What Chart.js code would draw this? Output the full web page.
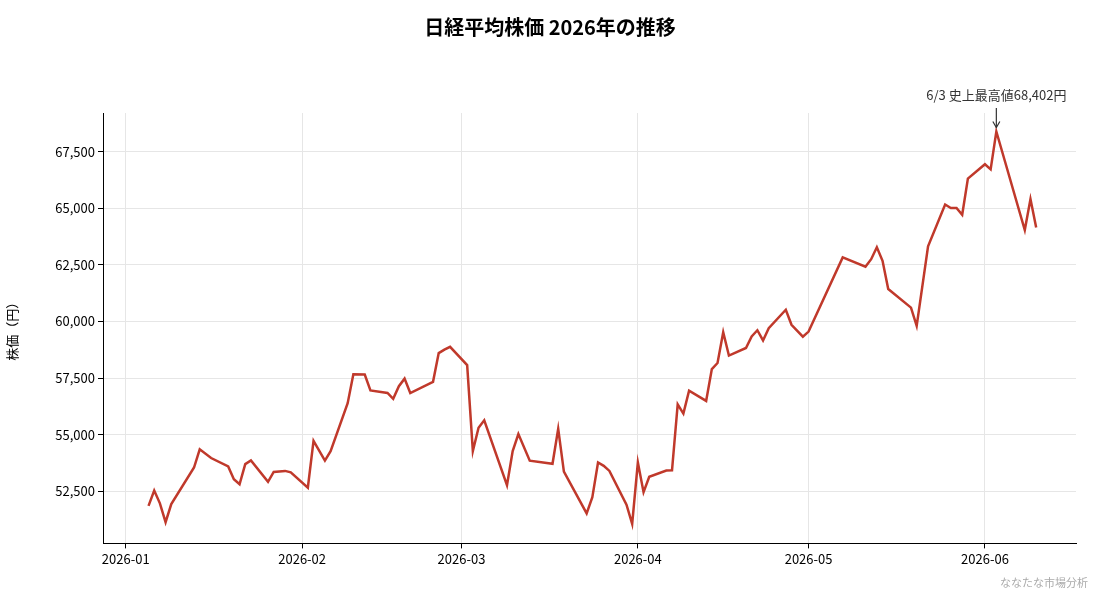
<!DOCTYPE html>
<html>
<head>
<meta charset="utf-8">
<script src="https://cdn.jsdelivr.net/npm/chart.js@4"></script>
<style>
  body { margin: 0; background: #fff; }
  #wrap { width: 1100px; height: 594px; position: relative; }
</style>
</head>
<body>
<div id="wrap"><canvas id="chart"></canvas></div>
<script>
const dates = [
  '2026-01-05','2026-01-06','2026-01-07','2026-01-08','2026-01-09','2026-01-13','2026-01-14','2026-01-16',
  '2026-01-19','2026-01-20','2026-01-21','2026-01-22','2026-01-23','2026-01-26','2026-01-27','2026-01-29',
  '2026-01-30','2026-02-02','2026-02-03','2026-02-05','2026-02-06','2026-02-09','2026-02-10','2026-02-12',
  '2026-02-13','2026-02-16','2026-02-17','2026-02-18','2026-02-19','2026-02-20','2026-02-24','2026-02-25',
  '2026-02-26','2026-02-27','2026-03-02','2026-03-03','2026-03-04','2026-03-05','2026-03-09','2026-03-10',
  '2026-03-11','2026-03-13','2026-03-17','2026-03-18','2026-03-19','2026-03-23','2026-03-24','2026-03-25',
  '2026-03-26','2026-03-27','2026-03-30','2026-03-31','2026-04-01','2026-04-02','2026-04-03','2026-04-06',
  '2026-04-07','2026-04-08','2026-04-09','2026-04-10','2026-04-13','2026-04-14','2026-04-15','2026-04-16',
  '2026-04-17','2026-04-20','2026-04-21','2026-04-22','2026-04-23','2026-04-24','2026-04-27','2026-04-28',
  '2026-04-30','2026-05-01','2026-05-07','2026-05-11','2026-05-12','2026-05-13','2026-05-14','2026-05-15',
  '2026-05-19','2026-05-20','2026-05-22','2026-05-25','2026-05-26','2026-05-27','2026-05-28','2026-05-29',
  '2026-06-01','2026-06-02','2026-06-03','2026-06-08','2026-06-09','2026-06-10'
]
const prices = [
  51850, 52530, 51960, 51130, 51930, 53545, 54350, 53965,
  53590, 53030, 52805, 53695, 53860, 52910, 53350, 53395,
  53330, 52650, 54720, 53850, 54270, 56385, 57670, 57655,
  56955, 56840, 56580, 57140, 57475, 56840, 57335, 58605,
  58755, 58880, 58075, 54270, 55300, 55630, 52760, 54270,
  55025, 53850, 53710, 55255, 53365, 51520, 52230, 53770,
  53620, 53395, 51900, 51055, 53770, 52455, 53135, 53410,
  53420, 56340, 55930, 56945, 56490, 57895, 58165, 59525,
  58495, 58830, 59345, 59615, 59165, 59705, 60520, 59855,
  59330, 59555, 62835, 62425, 62755, 63285, 62685, 61440,
  60615, 59810, 63330, 65175, 65020, 65020, 64720, 66320,
  66955, 66730, 68402, 64045, 65415, 64160
]
const monthTicks = ['2026-01-01','2026-02-01','2026-03-01','2026-04-01','2026-05-01','2026-06-01']
const yTicks = [52500, 55000, 57500, 60000, 62500, 65000, 67500]
const title = '日経平均株価 2026年の推移'
const peakLabel = '6/3 史上最高値68,402円'
const peakDate = '2026-06-03'
const peakPrice = 68402
const credit = 'ななたな市場分析'

const FONT = '"Noto Sans CJK JP", "Noto Sans", sans-serif'
const toDay = s => {
  const [y, m, d] = s.split('-').map(Number)
  return (Date.UTC(y, m - 1, d) - Date.UTC(2026, 0, 1)) / 86400000
}
const fmtMonth = day => {
  const dt = new Date(Date.UTC(2026, 0, 1) + day * 86400000)
  return dt.getUTCFullYear() + '-' + String(dt.getUTCMonth() + 1).padStart(2, '0')
}

const extras = {
  id: 'extras',
  afterDraw(chart) {
    const c = chart.ctx
    const xs = chart.scales.x, ys = chart.scales.y
    c.save()
    c.fillStyle = '#000'
    c.font = 'bold 20px ' + FONT
    c.textAlign = 'center'
    c.textBaseline = 'middle'
    c.fillText(title, 550, 27)

    const px = xs.getPixelForValue(toDay(peakDate))
    const py = ys.getPixelForValue(peakPrice)
    c.font = '13px ' + FONT
    c.fillStyle = '#333'
    c.fillText(peakLabel, px, 95)
    c.strokeStyle = '#333'
    c.lineWidth = 1.2
    c.beginPath()
    c.moveTo(px, 108)
    c.lineTo(px, py - 4)
    c.stroke()
    c.beginPath()
    c.moveTo(px - 3.5, py - 10)
    c.lineTo(px, py - 4)
    c.lineTo(px + 3.5, py - 10)
    c.stroke()

    c.font = '11px ' + FONT
    c.fillStyle = '#aaa'
    c.textAlign = 'right'
    c.fillText(credit, 1088, 583)
    c.restore()
  }
}

new Chart(document.getElementById('chart'), {
  type: 'line',
  data: {
    datasets: [{
      data: dates.map((d, i) => ({ x: toDay(d), y: prices[i] })),
      borderColor: '#c0392b',
      borderWidth: 2.5,
      pointRadius: 0,
      tension: 0,
      fill: false
    }]
  },
  options: {
    responsive: true,
    maintainAspectRatio: false,
    animation: false,
    layout: { padding: { top: 113, right: 24, bottom: 24, left: 0 } },
    plugins: { legend: { display: false }, tooltip: { enabled: false } },
    scales: {
      x: {
        type: 'linear',
        min: toDay('2025-12-28'),
        max: toDay('2026-06-17'),
        afterBuildTicks: s => { s.ticks = monthTicks.map(m => ({ value: toDay(m) })) },
        ticks: { callback: v => fmtMonth(v), color: '#000', font: { size: 13, family: FONT }, maxRotation: 0 },
        grid: { color: '#e6e6e6', tickColor: '#000', tickLength: 5 },
        border: { color: '#000', width: 1 }
      },
      y: {
        min: 50190,
        max: 69220,
        afterBuildTicks: s => { s.ticks = yTicks.map(v => ({ value: v })) },
        afterFit: s => { s.width = 103 },
        ticks: { callback: v => v.toLocaleString('en-US'), color: '#000', font: { size: 13, family: FONT } },
        grid: { color: '#e6e6e6', tickColor: '#000', tickLength: 5 },
        border: { color: '#000', width: 1 },
        title: { display: true, text: '株価（円）', color: '#000', font: { size: 13, family: FONT }, padding: 4 }
      }
    }
  },
  plugins: [extras]
})
</script>
</body>
</html>
